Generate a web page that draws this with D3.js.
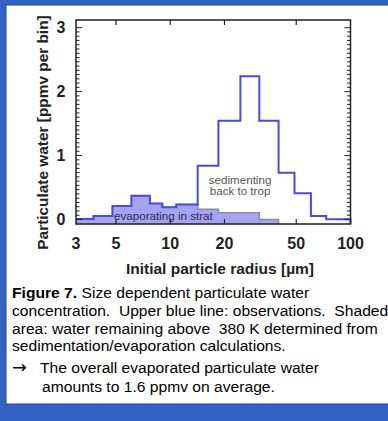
<!DOCTYPE html>
<html>
<head>
<meta charset="utf-8">
<script src="https://cdn.jsdelivr.net/npm/d3@7"></script>
<style>
  html, body { margin: 0; padding: 0; background: #fff; }
  svg { display: block; }
  text { font-family: "Liberation Sans", Arial, sans-serif; }
</style>
</head>
<body>
<svg id="chart" width="388" height="421"></svg>
<script>
// ---- Data ----
const binEdges = [3, 3.75, 4.78, 6.09, 7.71, 9.04, 10.8, 14.2, 18.5, 24.5, 31.2, 39.9, 48.9, 60.3, 73.3, 100];
const observed = [0.01, 0.055, 0.21, 0.37, 0.25, 0.19, 0.235, 0.84, 1.545, 2.24, 1.545, 0.73, 0.41, 0.055, 0.005];
const remaining = [0.01, 0.055, 0.21, 0.37, 0.25, 0.19, 0.235, 0.16, 0.105, 0.105, 0.0, null, null, null, null];
const xTicks = [3, 5, 10, 20, 50, 100];
const yTicks = [0, 1, 2, 3];
const yLabel = "Particulate water [ppmv per bin]";
const xLabel = "Initial particle radius [µm]";
const annotations = [
  { text: "evaporating in strat", x: 4.88, y: 0.0, anchor: "start", color: "#2c2c55" },
  { text: "sedimenting", x: 24.4, y: 0.563, anchor: "middle", color: "#555555" },
  { text: "back to trop", x: 24.4, y: 0.376, anchor: "middle", color: "#555555" }
];
const captionLines = [
  [{ t: "Figure 7.", b: true }, { t: " Size dependent particulate water", b: false }],
  [{ t: "concentration.  Upper blue line: observations.  Shaded", b: false }],
  [{ t: "area: water remaining above  380 K determined from", b: false }],
  [{ t: "sedimentation/evaporation calculations.", b: false }]
];
const noteLines = ["The overall evaporated particulate water", "amounts to 1.6 ppmv on average."];

// ---- Layout ----
const svg = d3.select("#chart");
const W = 388, H = 421;
const plot = { left: 76, right: 350.5, top: 20, bottom: 224 };

svg.append("rect").attr("x", 0).attr("y", 0).attr("width", W).attr("height", H).attr("fill", "#ffffff");
const frameBlue = "#3462c4";
svg.append("rect").attr("x", 0).attr("y", 0).attr("width", W).attr("height", 5).attr("fill", frameBlue);
svg.append("rect").attr("x", 0).attr("y", 0).attr("width", 6).attr("height", H).attr("fill", frameBlue);
svg.append("rect").attr("x", 0).attr("y", 404).attr("width", W).attr("height", H - 404).attr("fill", frameBlue);
svg.append("line").attr("x1", 6).attr("x2", W).attr("y1", 5).attr("y2", 5).attr("stroke", "#23479a").attr("stroke-width", 1);
svg.append("line").attr("x1", 6).attr("x2", 6).attr("y1", 5).attr("y2", 404).attr("stroke", "#23479a").attr("stroke-width", 1);
svg.append("line").attr("x1", 6).attr("x2", W).attr("y1", 404).attr("y2", 404).attr("stroke", "#23479a").attr("stroke-width", 1);

// ---- Scales ----
const x = d3.scaleLog().domain([3, 100]).range([plot.left, plot.right]);
const y = d3.scaleLinear().domain([-0.07, 3.12]).range([plot.bottom, plot.top]);

function stepPoints(vals) {
  const pts = [];
  vals.forEach((v, i) => { if (v !== null) pts.push({ e: binEdges[i], v: v }); });
  const lastIdx = vals.map(v => v !== null).lastIndexOf(true);
  pts.push({ e: binEdges[lastIdx + 1], v: vals[lastIdx] });
  return pts;
}

const remPts = stepPoints(remaining);
const obsPts = stepPoints(observed);

const area = d3.area()
  .x(d => x(d.e))
  .y0(plot.bottom)
  .y1(d => y(d.v))
  .curve(d3.curveStepAfter);
svg.append("path").datum(remPts).attr("d", area).attr("fill", "#a4a4f2");

const line = d3.line().x(d => x(d.e)).y(d => y(d.v)).curve(d3.curveStepAfter);
const remLast = remPts[remPts.length - 1];
svg.append("path").datum(remPts.concat([{ e: remLast.e, v: y.domain()[0] }]))
  .attr("d", line).attr("fill", "none").attr("stroke", "#8a8aa6").attr("stroke-width", 1.5);

annotations.forEach(a => {
  svg.append("text").attr("x", x(a.x)).attr("y", y(a.y))
    .attr("text-anchor", a.anchor).attr("font-size", 11.6)
    .attr("fill", a.color)
    .text(a.text);
});

const obsLast = obsPts[obsPts.length - 1];
svg.append("path").datum(obsPts.concat([{ e: obsLast.e, v: y.domain()[0] }]))
  .attr("d", line).attr("fill", "none").attr("stroke", "#4a4ae6").attr("stroke-width", 2);

// ---- Axes / frame ----
const axisColor = "#222";
const g = svg.append("g");
const minorY = d3.range(0, 3.0001, 1 / 15);
minorY.forEach(v => {
  const major = Math.abs(v - Math.round(v)) < 1e-6;
  const len = major ? 6 : 3.5;
  g.append("line").attr("x1", plot.left).attr("x2", plot.left + len).attr("y1", y(v)).attr("y2", y(v))
    .attr("stroke", axisColor).attr("stroke-width", 1);
  g.append("line").attr("x1", plot.right).attr("x2", plot.right - len).attr("y1", y(v)).attr("y2", y(v))
    .attr("stroke", axisColor).attr("stroke-width", 1);
});
xTicks.slice(1, -1).forEach(t => {
  g.append("line").attr("x1", x(t)).attr("x2", x(t)).attr("y1", plot.top).attr("y2", plot.top + 5)
    .attr("stroke", axisColor).attr("stroke-width", 1.2);
  g.append("line").attr("x1", x(t)).attr("x2", x(t)).attr("y1", plot.bottom).attr("y2", plot.bottom - 5)
    .attr("stroke", axisColor).attr("stroke-width", 1.2);
});
g.append("rect").attr("x", plot.left).attr("y", plot.top)
  .attr("width", plot.right - plot.left).attr("height", plot.bottom - plot.top)
  .attr("fill", "none").attr("stroke", axisColor).attr("stroke-width", 1.5);

xTicks.forEach(t => {
  svg.append("text").attr("x", x(t)).attr("y", 249)
    .attr("text-anchor", "middle").attr("font-size", 16).attr("font-weight", "bold").attr("fill", "#222")
    .text(t);
});
yTicks.forEach(t => {
  svg.append("text").attr("x", 65.5).attr("y", y(t) + 5.7)
    .attr("text-anchor", "end").attr("font-size", 16).attr("font-weight", "bold").attr("fill", "#222")
    .text(t);
});

svg.append("text").attr("transform", "translate(47.5,132.5) rotate(-90)")
  .attr("text-anchor", "middle").attr("font-size", 15.4).attr("font-weight", "bold").attr("fill", "#222")
  .text(yLabel);
svg.append("text").attr("x", 220).attr("y", 273.5)
  .attr("text-anchor", "middle").attr("font-size", 15.5).attr("font-weight", "bold").attr("fill", "#222")
  .text(xLabel);

// caption
const capBase = [298.5, 316.2, 333.8, 351.4];
const cap = svg.append("g").attr("transform", "translate(12,0) scale(1.043,1)");
captionLines.forEach((ln, i) => {
  const tx = cap.append("text").attr("x", 0).attr("y", capBase[i])
    .attr("font-size", 15).attr("fill", "#000").style("white-space", "pre");
  ln.forEach(seg => tx.append("tspan").attr("font-weight", seg.b ? "bold" : "normal").text(seg.t));
});
cap.append("text").attr("x", 0).attr("y", 373.5).attr("font-size", 17)
  .style("font-family", "'DejaVu Sans', sans-serif").text("→");
noteLines.forEach((t, i) => {
  cap.append("text").attr("x", i === 0 ? 26.8 : 28.8).attr("y", 373.5 + i * 18.5)
    .attr("font-size", 15).attr("fill", "#000").text(t);
});
</script>
</body>
</html>
